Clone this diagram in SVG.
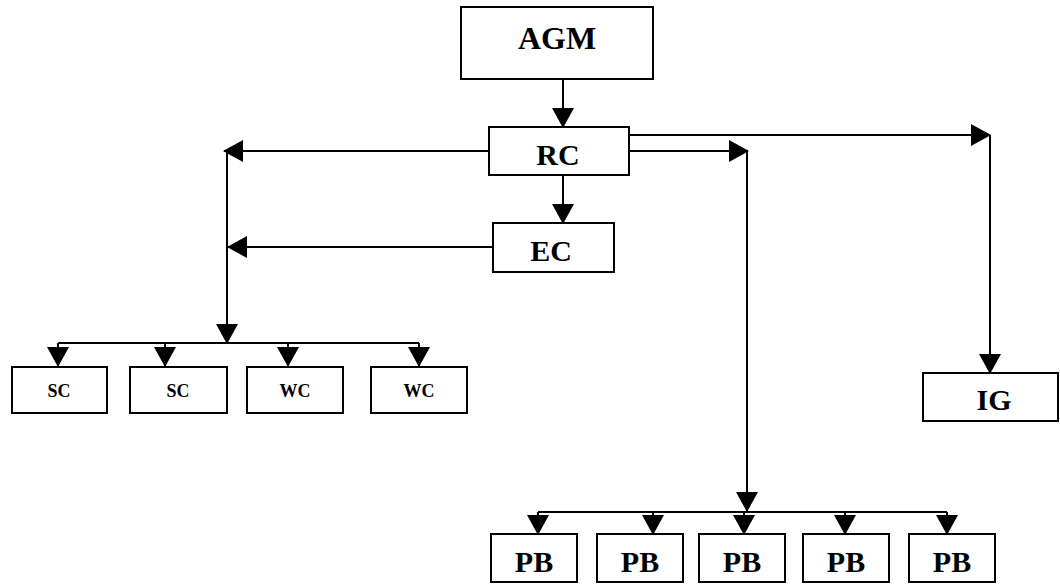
<svg xmlns="http://www.w3.org/2000/svg" width="1060" height="584" viewBox="0 0 1060 584">
<style>
.box{fill:#fff;stroke:#000;stroke-width:2}
.big{font-family:"Liberation Serif","Times New Roman",serif;font-weight:bold;font-size:30px;text-anchor:middle;fill:#000}
.small{font-family:"Liberation Serif","Times New Roman",serif;font-weight:bold;font-size:18px;text-anchor:middle;fill:#000}
.ln{fill:none;stroke:#000;stroke-width:2}
.arr{marker-end:url(#ah)}
</style>
<defs>
<marker id="ah" markerUnits="userSpaceOnUse" markerWidth="20" markerHeight="22" viewBox="0 0 20 22" refX="19" refY="11" orient="auto">
<path d="M0,0 L20,11 L0,22 Z" fill="#000"/>
</marker>
</defs>
<rect width="1060" height="584" fill="#fff"/>
<g id="connectors">
<path class="ln arr" d="M563,79 V127"/>
<path class="ln arr" d="M489,151 H224"/>
<path class="ln arr" d="M227,151 V343"/>
<path class="ln arr" d="M493,247 H228"/>
<path class="ln arr" d="M563,175 V223"/>
<path class="ln" d="M58,343 H419"/>
<path class="ln arr" d="M58,343 V366"/>
<path class="ln arr" d="M165,343 V366"/>
<path class="ln arr" d="M288,343 V366"/>
<path class="ln arr" d="M419,343 V366"/>
<path class="ln arr" d="M629,135 H990"/>
<path class="ln arr" d="M990,135 V373"/>
<path class="ln arr" d="M629,151 H748"/>
<path class="ln arr" d="M747,151 V511"/>
<path class="ln" d="M538,512 H947"/>
<path class="ln arr" d="M538,512 V534"/>
<path class="ln arr" d="M653,512 V534"/>
<path class="ln arr" d="M744,512 V534"/>
<path class="ln arr" d="M845,512 V534"/>
<path class="ln arr" d="M947,512 V534"/>
</g>
<g id="agm"><rect class="box" x="461" y="7" width="192" height="72"/><text class="big" x="557" y="49" style="font-size:32px">AGM</text></g>
<g id="rc"><rect class="box" x="489" y="127" width="140" height="48"/><text class="big" x="558" y="165">RC</text></g>
<g id="ec"><rect class="box" x="493" y="223" width="121" height="49"/><text class="big" x="551" y="261">EC</text></g>
<g id="sc1"><rect class="box" x="12" y="367" width="95" height="46"/><text class="small" x="59" y="397">SC</text></g>
<g id="sc2"><rect class="box" x="130" y="367" width="97" height="46"/><text class="small" x="178" y="397">SC</text></g>
<g id="wc1"><rect class="box" x="247" y="367" width="96" height="46"/><text class="small" x="295" y="397">WC</text></g>
<g id="wc2"><rect class="box" x="371" y="367" width="96" height="46"/><text class="small" x="419" y="397">WC</text></g>
<g id="ig"><rect class="box" x="923" y="373" width="135" height="48"/><text class="big" x="994" y="410">IG</text></g>
<g id="pb1"><rect class="box" x="491" y="534" width="86" height="48"/><text class="big" x="534" y="572">PB</text></g>
<g id="pb2"><rect class="box" x="597" y="534" width="86" height="48"/><text class="big" x="640" y="572">PB</text></g>
<g id="pb3"><rect class="box" x="699" y="534" width="86" height="48"/><text class="big" x="742" y="572">PB</text></g>
<g id="pb4"><rect class="box" x="803" y="534" width="86" height="48"/><text class="big" x="846" y="572">PB</text></g>
<g id="pb5"><rect class="box" x="909" y="534" width="86" height="48"/><text class="big" x="952" y="572">PB</text></g>
</svg>
